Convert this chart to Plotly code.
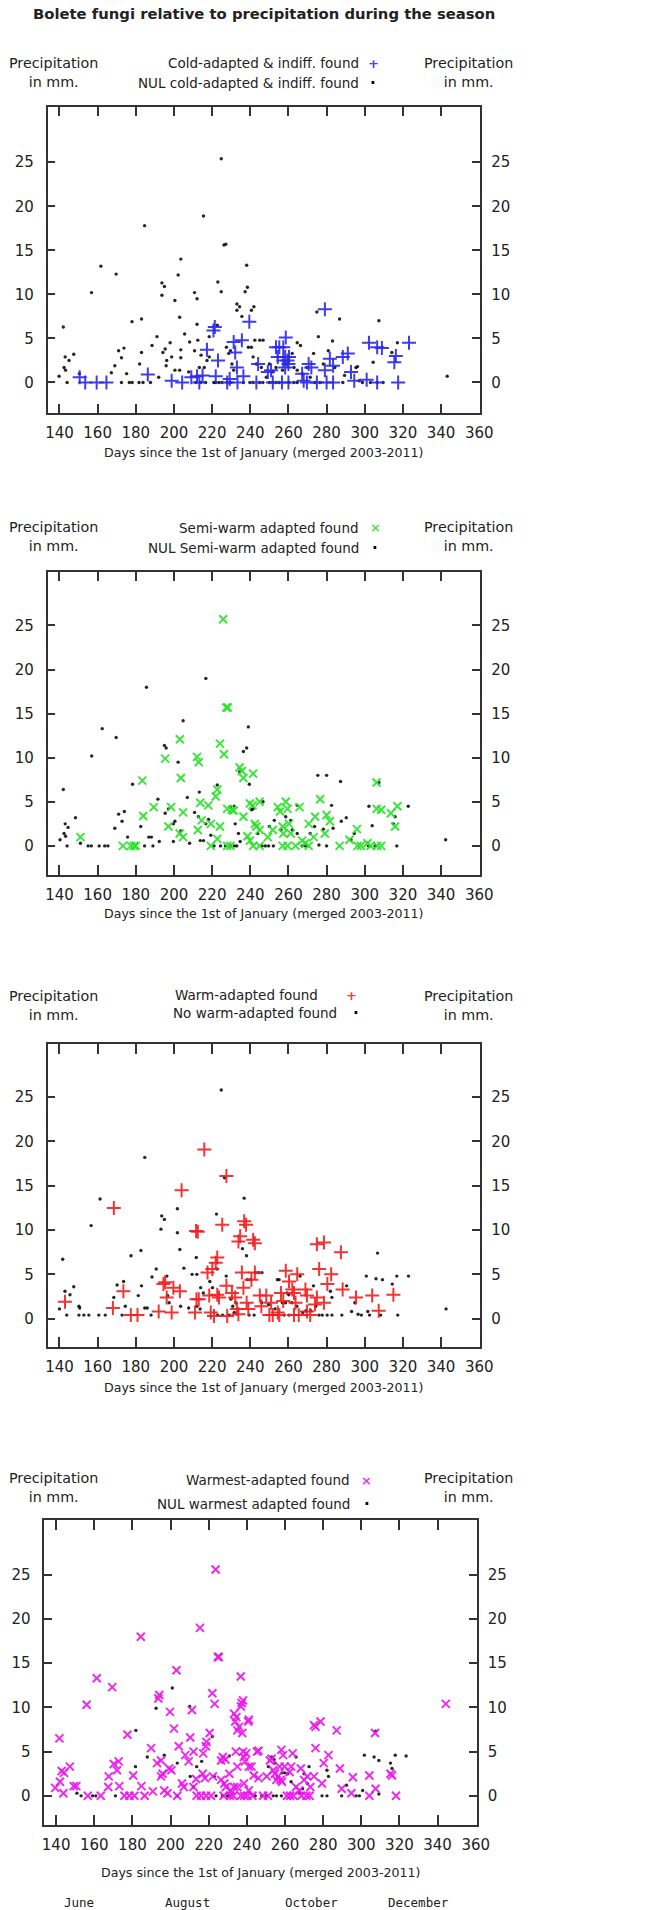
import plotly.graph_objects as go

# ---------------- data ----------------
TITLE = "Bolete fungi relative to precipitation during the season"
X_TICKS = [140, 160, 180, 200, 220, 240, 260, 280, 300, 320, 340, 360]
Y_TICKS = [0, 5, 10, 15, 20, 25]
X_TITLE = "Days since the 1st of January (merged 2003-2011)"
Y_TITLE = "Precipitation<br>in mm."
MONTHS = ["June", "August", "October", "December"]
MONTH_DAYS = [152, 209, 274, 330]

# Panel 1 : cold-adapted & indifferent
cold_found_x = [150.6, 153.5, 159.5, 164.6, 186.3, 198.8, 204.3, 209.1, 212.1, 213.3, 215.0, 217.3,
                220.7, 221.4, 221.9, 223.1, 227.9, 229.2, 231.3, 232.1, 233.0, 233.3, 235.6, 236.4,
                239.5, 243.2, 244.1, 249.2, 250.9, 251.8, 256.6, 260.0, 253.5, 255.2, 257.3, 254.4,
                258.6, 257.3, 258.3, 259.5, 260.3, 258.3, 260.0, 267.2, 268.0, 269.7, 270.6, 272.0,
                274.9, 279.1, 279.1, 280.0, 283.4, 281.7, 283.4, 288.5, 291.1, 292.8, 294.5, 301.0,
                302.2, 306.5, 306.5, 309.0, 315.5, 316.3, 317.5, 323.2]
cold_found_y = [0.6, 0.0, 0.0, 0.0, 0.9, 0.2, 0.0, 0.6, 0.7, 0.0, 0.8, 3.7,
                5.9, 6.3, 0.7, 2.5, 0.0, 0.4, 4.6, 3.4, 1.7, 0.0, 4.8, 0.7,
                6.9, 0.0, 2.1, 1.2, 1.4, 0.0, 0.0, 0.0, 4.0, 4.0, 4.0, 2.9,
                5.1, 2.5, 2.9, 2.5, 2.9, 1.7, 2.1, 1.0, 0.2, 0.0, 2.1, 1.7,
                0.0, 8.3, 1.4, 0.0, 0.0, 2.7, 1.9, 2.9, 3.3, 1.2, 0.2, 0.3,
                4.5, 0.0, 4.0, 3.9, 2.3, 3.0, 0.0, 4.5]
cold_nul_x = [139.8, 142.0, 142.4, 143.2, 143.0, 145.0, 144.0, 147.5, 150.4, 156.8, 161.7, 167.2,
              169.0, 169.7, 171.0, 172.5, 173.8, 172.5, 175.2, 176.6, 178.1, 181.7, 183.8, 178.0,
              183.0, 182.0, 183.0, 184.6, 187.7, 188.5, 191.1, 192.0, 193.7, 195.0, 193.7, 194.2,
              195.4, 195.9, 196.2, 198.0, 198.8, 200.5, 200.5, 202.2, 203.0, 203.6, 203.6, 203.6,
              203.0, 205.6, 207.7, 208.2, 210.8, 210.8, 212.1, 212.1, 212.5, 213.3, 214.2, 215.5,
              215.9, 217.3, 218.5, 218.5, 223.0, 222.7, 224.8, 224.8, 226.2, 227.2, 227.5, 228.7,
              229.6, 230.4, 231.3, 233.0, 234.4, 233.0, 235.6, 237.3, 238.5, 238.1, 239.0, 240.6,
              240.6, 241.9, 241.5, 242.4, 245.0, 246.7, 243.2, 245.8, 248.4, 250.0, 251.8, 253.5,
              254.4, 256.9, 258.6, 260.3, 262.0, 262.9, 264.6, 264.6, 266.3, 267.2, 269.7, 271.4,
              273.2, 274.9, 275.7, 278.3, 280.9, 283.1, 284.3, 286.8, 288.5, 289.4, 295.4, 296.2,
              297.1, 298.8, 303.0, 304.4, 306.5, 307.4, 309.6, 314.2, 317.1, 343.2,
              211.5, 214.0, 216.6, 220.9, 221.8, 223.5, 225.2, 227.8, 229.6, 236.4, 239.8, 241.5,
              244.9, 246.6, 250.0, 251.7, 253.4, 255.1, 260.3, 262.9, 264.6, 273.9, 276.5]
cold_nul_y = [0.7, 6.3, 1.7, 1.4, 2.9, 2.5, 0.0, 3.2, 1.0, 10.2, 13.2, 1.1,
              1.9, 12.3, 3.6, 2.8, 3.9, 0.0, 1.0, 0.0, 0.0, 0.0, 0.0, 6.9,
              7.2, 2.1, 3.4, 17.8, 0.0, 4.2, 5.2, 0.6, 11.3, 10.9, 9.9, 3.4,
              3.8, 1.9, 2.5, 4.5, 2.9, 9.3, 1.4, 12.2, 7.4, 14.0, 3.7, 2.8,
              1.4, 5.5, 1.2, 4.6, 3.6, 10.2, 9.5, 6.6, 4.8, 1.7, 3.1, 18.9,
              1.7, 2.5, 2.9, 5.2, 11.4, 6.5, 25.4, 10.3, 15.6, 15.7, 4.0, 3.3,
              3.6, 2.1, 1.4, 8.9, 8.6, 8.2, 7.5, 10.3, 10.8, 13.3, 4.0, 4.0,
              8.2, 8.6, 2.9, 4.8, 4.8, 4.8, 2.1, 1.7, 0.6, 2.1, 1.2, 1.7,
              2.9, 1.4, 2.1, 2.9, 3.3, 1.7, 1.4, 4.5, 4.2, 1.0, 1.7, 0.6,
              3.3, 8.0, 5.2, 2.1, 3.6, 4.7, 1.7, 7.2, 0.0, 0.8, 1.7, 1.8,
              0.2, 0.0, 0.0, 2.3, 0.0, 7.0, 0.0, 3.4, 4.5, 0.7,
              0.0, 0.0, 0.0, 0.0, 0.0, 0.0, 0.0, 0.0, 0.0, 0.0, 0.0, 0.0,
              0.0, 0.0, 0.0, 0.0, 0.0, 0.0, 0.0, 0.0, 0.0, 0.0, 0.0]

# Panel 2 : semi-warm adapted
semi_found_x = [151.0, 173.2, 177.4, 179.1, 180.0, 183.4, 183.9, 189.4, 195.4, 197.1, 198.5, 203.1,
                203.6, 203.0, 204.8, 204.8, 212.1, 213.0, 212.5, 213.8, 214.5, 218.0, 219.3, 219.3,
                221.9, 222.7, 222.7, 224.1, 224.1, 225.8, 226.2, 227.5, 228.2, 227.9, 230.4, 231.3,
                227.9, 229.6, 234.4, 235.6, 236.4, 236.4, 238.5, 239.8, 239.8, 241.2, 241.5, 242.4,
                243.2, 244.9, 241.5, 244.9, 244.9, 249.2, 251.8, 254.4, 255.6, 257.0, 257.3, 258.6,
                259.5, 257.0, 259.5, 260.3, 261.2, 263.7, 265.8, 267.2, 268.9, 270.6, 270.6, 273.2,
                274.0, 276.6, 279.1, 280.0, 281.7, 286.8, 292.0, 295.9, 296.2, 297.9, 301.4, 303.1,
                306.2, 306.2, 308.6, 306.5, 308.6, 313.7, 315.9, 317.1]
semi_found_y = [1.0, 0.0, 0.0, 0.0, 0.0, 7.4, 3.4, 4.4, 9.9, 2.2, 4.4, 12.1,
                7.7, 1.4, 1.0, 3.8, 10.1, 9.5, 1.8, 4.9, 2.9, 4.6, 2.5, 0.0,
                5.6, 6.4, 0.8, 11.6, 2.2, 25.7, 10.4, 15.7, 15.7, 4.2, 4.1, 4.0,
                0.0, 0.0, 8.9, 8.5, 7.7, 3.3, 1.1, 0.6, 4.8, 4.6, 8.2, 2.5,
                2.2, 1.8, 0.0, 0.0, 5.0, 1.0, 1.8, 4.4, 3.9, 2.2, 1.4, 5.0,
                4.2, 0.0, 0.0, 2.5, 1.4, 0.0, 4.4, 0.6, 0.3, 0.0, 2.5, 1.0,
                3.3, 5.3, 1.4, 3.5, 2.8, 0.0, 0.7, 1.9, 0.0, 0.0, 0.3, 0.0,
                7.2, 4.2, 4.1, 0.0, 0.0, 3.7, 2.2, 4.5]
semi_nul_x = [140.3, 142.0, 142.4, 143.2, 143.0, 144.5, 144.0, 148.4, 151.0, 155.0, 156.7, 156.9,
              160.8, 163.7, 165.4, 162.4, 169.0, 169.7, 171.0, 174.0, 172.8, 175.7, 178.3, 182.6,
              185.6, 186.8, 188.2, 184.6, 189.0, 191.6, 192.3, 195.0, 195.9, 195.4, 197.1, 199.7,
              200.5, 199.7, 202.2, 204.8, 203.6, 207.0, 208.2, 210.8, 212.8, 213.3, 213.8, 215.5,
              216.7, 216.7, 218.1, 219.3, 222.7, 221.0, 224.4, 227.0, 229.6, 231.6, 232.9, 229.6,
              231.6, 232.1, 233.8, 234.7, 234.4, 236.4, 238.1, 239.0, 239.5, 240.7, 241.5, 243.9,
              246.7, 246.2, 247.9, 249.6, 252.1, 250.0, 252.6, 256.1, 258.6, 261.2, 262.0, 264.6,
              264.6, 267.2, 268.9, 271.4, 273.7, 275.4, 276.0, 278.3, 280.0, 280.0, 282.6, 283.4,
              287.3, 287.7, 290.3, 292.8, 294.5, 302.0, 305.4, 302.2, 303.9, 307.4, 315.0, 315.9,
              316.8, 322.8, 342.4]
semi_nul_y = [0.7, 6.4, 1.4, 1.1, 2.5, 2.1, 0.0, 3.2, 0.3, 0.0, 0.0, 10.2,
              0.0, 0.0, 0.0, 13.3, 2.0, 12.3, 3.6, 3.9, 2.8, 1.0, 7.0, 2.2,
              18.0, 1.0, 1.0, 0.0, 0.0, 5.3, 0.5, 11.4, 11.1, 3.7, 4.2, 2.5,
              2.8, 0.5, 9.5, 14.2, 1.7, 5.5, 0.3, 3.8, 3.3, 6.1, 0.6, 0.6,
              19.0, 2.5, 3.0, 1.2, 6.9, 0.0, 0.0, 0.0, 0.0, 0.0, 0.0, 4.4,
              4.5, 2.5, 1.4, 0.5, 8.4, 10.7, 11.1, 13.5, 7.0, 4.1, 4.2, 1.4,
              5.0, 0.0, 0.0, 0.0, 0.0, 2.2, 2.9, 1.8, 3.3, 2.9, 1.8, 1.4,
              4.6, 0.0, 0.0, 1.4, 2.2, 8.0, 0.1, 1.9, 0.0, 8.0, 4.6, 2.0,
              7.3, 2.8, 3.2, 0.7, 1.4, 0.0, 0.0, 4.5, 2.3, 7.2, 2.5, 3.3,
              0.0, 4.5, 0.7]

# Panel 3 : warm adapted
warm_found_x = [142.9, 168.5, 168.0, 173.5, 177.4, 180.9, 192.0, 194.5, 195.4, 196.2, 198.8, 199.7,
                203.1, 204.0, 211.6, 212.5, 211.8, 213.0, 211.0, 215.9, 217.6, 218.5, 219.3, 221.0,
                220.1, 221.9, 222.7, 222.7, 223.6, 225.3, 227.5, 227.5, 227.9, 230.4, 232.1, 233.0,
                233.8, 233.8, 234.7, 235.6, 236.4, 236.8, 237.8, 238.1, 239.0, 240.6, 241.5, 242.4,
                242.4, 245.0, 245.8, 248.4, 250.0, 251.8, 250.9, 254.4, 255.2, 256.1, 257.3, 258.6,
                260.3, 262.0, 262.9, 263.7, 264.6, 262.9, 265.4, 268.9, 269.7, 271.4, 269.7, 273.9,
                274.9, 274.9, 276.1, 278.6, 278.6, 280.4, 282.4, 287.5, 288.4, 295.4, 303.9, 307.3,
                315.0]
warm_found_y = [1.9, 12.5, 1.2, 3.1, 0.4, 0.4, 0.8, 3.9, 4.1, 2.4, 0.7, 3.5,
                3.1, 14.5, 9.9, 9.8, 2.2, 2.2, 0.7, 19.1, 5.2, 2.6, 0.7, 0.3,
                5.6, 6.3, 6.9, 2.7, 2.4, 10.6, 16.1, 3.7, 0.3, 2.9, 2.4, 1.1,
                0.5, 8.7, 9.3, 5.2, 3.5, 11.0, 10.6, 1.8, 1.1, 4.4, 8.9, 8.5,
                5.2, 2.6, 1.4, 2.6, 0.4, 0.4, 1.8, 0.7, 0.4, 2.9, 2.0, 5.4,
                4.2, 3.3, 2.9, 1.8, 5.0, 0.4, 0.4, 3.3, 2.6, 0.4, 0.8, 1.6,
                2.4, 8.4, 5.6, 8.6, 1.8, 3.9, 5.0, 7.5, 3.3, 2.4, 2.6, 0.9,
                2.7]
warm_nul_x = [140.0, 141.7, 142.9, 143.8, 145.5, 147.5, 150.2, 150.6, 150.2, 152.8, 155.4, 156.6,
              160.6, 164.0, 161.3, 168.5, 170.2, 173.6, 172.8, 174.5, 177.5, 181.3, 182.7, 183.0,
              184.7, 184.7, 186.0, 188.0, 188.5, 190.7, 193.6, 195.0, 193.2, 196.3, 196.7, 197.5,
              201.8, 201.8, 203.1, 203.5, 205.2, 207.7, 209.5, 212.0, 211.7, 212.0, 213.7, 214.0,
              215.4, 218.8, 220.2, 222.3, 222.6, 222.9, 225.5, 228.9, 224.8, 226.5, 227.4, 229.9,
              230.8, 231.6, 232.5, 235.9, 236.8, 238.0, 238.5, 240.2, 239.4, 242.0, 242.7, 244.4,
              246.1, 246.1, 249.6, 253.0, 254.2, 255.1, 256.8, 258.5, 259.3, 260.2, 257.7, 260.3,
              261.8, 264.4, 266.1, 267.5, 269.2, 271.7, 273.1, 274.3, 276.0, 277.7, 280.3, 282.8,
              282.0, 282.8, 288.0, 290.5, 293.1, 294.8, 296.5, 298.2, 300.8, 301.6, 302.5, 306.7,
              305.9, 309.3, 308.3, 314.4, 316.8, 317.3, 322.9, 342.6]
warm_nul_y = [1.1, 6.7, 3.1, 0.4, 2.7, 3.6, 1.4, 1.2, 0.4, 0.4, 0.4, 10.5,
              0.4, 0.4, 13.5, 2.4, 3.8, 4.2, 0.4, 1.4, 7.1, 2.6, 7.7, 3.7,
              18.2, 1.2, 1.2, 0.4, 4.7, 5.6, 11.6, 11.2, 10.1, 4.8, 2.6, 1.8,
              9.7, 12.4, 7.8, 1.4, 5.7, 1.2, 5.0, 5.0, 6.9, 1.4, 1.1, 3.5,
              2.9, 4.2, 3.5, 11.8, 5.6, 0.4, 0.4, 0.4, 25.8, 15.9, 4.8, 2.2,
              1.4, 0.7, 1.8, 7.9, 13.6, 7.1, 4.4, 4.4, 0.4, 0.4, 5.2, 5.2,
              5.2, 1.8, 1.6, 1.1, 4.4, 4.4, 1.8, 1.8, 2.9, 2.7, 0.4, 0.4,
              1.8, 1.4, 4.8, 0.7, 0.9, 0.9, 3.7, 1.4, 0.4, 0.4, 0.4, 0.4,
              3.1, 2.4, 0.4, 3.7, 0.8, 1.8, 0.5, 0.4, 4.8, 0.8, 0.4, 7.4,
              4.5, 4.4, 0.4, 3.9, 4.8, 0.4, 4.8, 1.1]

# Panel 4 : warmest adapted
warmest_found_x = [139.5, 141.7, 142.0, 142.9, 144.1, 143.8, 147.2, 149.2, 150.6, 156.0, 156.6, 161.3,
                   163.4, 167.3, 167.6, 169.4, 170.2, 172.8, 171.9, 173.1, 175.8, 178.4, 181.0, 177.4,
                   180.4, 184.4, 184.7, 186.4, 189.8, 190.7, 192.9, 194.1, 193.6, 195.0, 195.0, 195.8,
                   196.7, 198.4, 199.2, 200.4, 199.7, 201.8, 203.1, 204.3, 203.5, 206.0, 206.9, 207.7,
                   209.5, 210.3, 211.2, 212.0, 212.0, 213.7, 213.4, 215.4, 216.8, 218.0, 217.1, 218.5,
                   218.8, 220.5, 216.0, 218.6, 221.2, 221.9, 223.1, 222.2, 223.6, 224.8, 225.3, 226.5,
                   227.4, 228.7, 226.5, 228.2, 229.0, 227.8, 231.2, 232.9, 230.8, 231.6, 233.3, 235.0,
                   233.3, 234.5, 233.9, 234.2, 235.0, 235.9, 235.0, 236.8, 237.6, 237.3, 238.0, 236.9,
                   238.0, 239.7, 238.5, 239.0, 241.0, 238.5, 241.0, 236.9, 238.6, 240.3, 242.9, 240.7,
                   241.0, 242.4, 243.6, 245.3, 246.1, 246.1, 248.5, 251.1, 250.4, 252.1, 253.0, 253.8,
                   254.7, 255.5, 256.4, 257.7, 258.4, 258.1, 259.0, 257.2, 259.8, 261.0, 262.7, 264.4,
                   262.4, 263.2, 264.0, 265.8, 267.5, 268.3, 270.0, 268.6, 271.2, 272.9, 271.7, 273.3,
                   275.2, 276.0, 276.0, 278.6, 275.2, 279.4, 280.3, 282.8, 287.1, 288.8, 289.7, 294.8,
                   295.6, 304.2, 304.2, 307.2, 307.5, 315.3, 316.1, 318.2, 344.3]
warmest_found_y = [0.9, 6.5, 1.6, 2.8, 2.6, 0.3, 3.3, 1.1, 1.1, 10.3, 0.0, 13.3,
                   0.0, 1.0, 2.2, 12.3, 3.6, 3.9, 2.9, 1.1, 0.0, 0.0, 0.0, 6.9,
                   2.3, 18.0, 1.1, 0.0, 5.4, 0.5, 3.7, 11.4, 11.0, 4.0, 2.2, 2.5,
                   0.6, 0.3, 3.1, 2.9, 9.5, 7.6, 14.2, 5.6, 0.0, 1.4, 1.0, 4.6,
                   3.9, 6.6, 9.7, 5.0, 1.0, 0.0, 1.9, 19.0, 2.5, 2.0, 4.8, 5.6,
                   6.1, 7.1, 0.0, 0.0, 0.0, 11.6, 10.4, 2.2, 25.6, 15.7, 15.7, 4.0,
                   4.4, 4.1, 1.8, 1.4, 1.0, 0.0, 0.0, 0.0, 2.5, 0.6, 1.0, 1.0,
                   9.3, 8.9, 8.4, 5.0, 7.4, 7.8, 3.3, 13.5, 7.1, 10.5, 10.8, 10.1,
                   5.0, 4.8, 4.4, 3.9, 3.3, 1.4, 0.6, 0.0, 0.0, 0.0, 0.0, 8.4,
                   8.6, 3.3, 2.3, 5.0, 5.1, 2.0, 0.0, 0.0, 2.2, 4.0, 4.2, 2.9,
                   2.5, 1.8, 2.2, 1.8, 1.6, 5.2, 4.6, 3.3, 3.3, 0.0, 0.0, 0.0,
                   2.7, 3.3, 4.8, 1.0, 0.6, 3.1, 1.8, 0.0, 0.0, 0.0, 2.2, 1.0,
                   8.0, 7.8, 5.4, 8.4, 2.2, 1.4, 3.7, 4.6, 7.4, 3.1, 0.8, 0.3,
                   2.1, 0.0, 2.3, 7.1, 0.8, 2.5, 2.3, 0.0, 10.4]
warmest_nul_x = [150.9, 153.1, 159.1, 160.8, 171.1, 181.6, 181.8, 187.8, 192.4, 196.7, 200.9, 203.5,
                 203.5, 210.0, 210.3, 212.0, 213.7, 216.3, 221.9, 222.9, 223.8, 227.2, 229.8, 230.8,
                 230.8, 244.4, 247.8, 250.4, 253.8, 255.5, 258.1, 253.0, 254.3, 251.3, 254.7, 258.4,
                 259.8, 261.5, 263.2, 265.8, 267.5, 269.2, 270.0, 271.7, 272.6, 279.4, 282.0, 282.0,
                 282.8, 289.7, 292.2, 297.3, 299.0, 300.7, 301.6, 306.7, 309.2, 307.5, 309.2, 315.3,
                 316.1, 317.8, 323.5]
warmest_nul_y = [0.3, 0.0, 0.0, 0.0, 0.0, 3.3, 7.4, 4.4, 9.9, 4.6, 12.2, 3.7,
                 0.0, 10.1, 2.2, 1.0, 3.3, 3.9, 6.7, 2.2, 0.0, 0.0, 0.0, 4.5,
                 0.0, 0.0, 0.0, 0.0, 0.0, 0.0, 0.0, 4.4, 4.1, 3.3, 3.7, 2.6,
                 2.6, 2.5, 1.6, 4.4, 0.3, 0.8, 2.5, 1.4, 3.3, 0.0, 0.0, 2.9,
                 2.2, 0.0, 1.2, 0.0, 0.0, 0.6, 4.6, 4.4, 4.0, 7.3, 0.2, 3.7,
                 3.1, 4.6, 4.5]

FOUND_LABELS = ["Cold-adapted & indiff. found", "Semi-warm adapted found",
                "Warm-adapted found", "Warmest-adapted found"]
NUL_LABELS = ["NUL cold-adapted & indiff. found", "NUL Semi-warm adapted found",
              "No warm-adapted found", "NUL warmest adapted found"]

# ---------------- layout / styling ----------------
W, H = 661, 1910
FONT = "DejaVu Sans"
TXT = "#222222"
AXC = "#333333"

panels = [
    dict(fx=cold_found_x, fy=cold_found_y, nx=cold_nul_x, ny=cold_nul_y,
         sym="cross-thin-open", col="rgba(40,40,235,0.9)", leg_sym="+", size=10,
         box=(46.7, 489.3, 106.7, 413.3), yr=(-3.5, 31.3),
         leg=(63, 83), leg_end=(367, 367), mk=(380, 380), prec=(63, 83), xt=453),
    dict(fx=semi_found_x, fy=semi_found_y, nx=semi_nul_x, ny=semi_nul_y,
         sym="x-thin-open", col="rgba(40,225,40,0.9)", leg_sym="×", size=8,
         box=(46.7, 489.3, 571.7, 875.0), yr=(-3.3, 31.1),
         leg=(528, 548), leg_end=(367, 367), mk=(382, 382), prec=(527, 547), xt=913),
    dict(fx=warm_found_x, fy=warm_found_y, nx=warm_nul_x, ny=warm_nul_y,
         sym="cross-thin-open", col="rgba(240,30,30,0.9)", leg_sym="+", size=10,
         box=(46.7, 489.3, 1044.0, 1347.0), yr=(-3.2, 31.0),
         leg=(995, 1013), leg_end=(325, 345), mk=(358, 362), prec=(997, 1014), xt=1387),
    dict(fx=warmest_found_x, fy=warmest_found_y, nx=warmest_nul_x, ny=warmest_nul_y,
         sym="x-thin-open", col="rgba(235,20,235,0.9)", leg_sym="×", size=8,
         box=(43.3, 485.7, 1520.0, 1825.0), yr=(-3.3, 31.2),
         leg=(1480, 1504), leg_end=(358, 358), mk=(373, 373), prec=(1477, 1497), xt=1872),
]
XR = (133.8, 360.5)

def px(x):
    return x / W

def py(y):
    return 1 - y / H

fig = go.Figure()
annotations = []
layout = dict(width=W, height=H, margin=dict(l=0, r=0, t=0, b=0),
              paper_bgcolor="white", plot_bgcolor="white", showlegend=False,
              font=dict(family=FONT, size=13, color=TXT))

for i, p in enumerate(panels, start=1):
    xa, ya, yb = f"x{i}", f"y{i}", f"y{i+4}"
    x0, x1, y0, y1 = p["box"]
    fig.add_trace(go.Scatter(x=p["nx"], y=p["ny"], mode="markers", xaxis=xa, yaxis=ya,
                             marker=dict(symbol="circle", size=3.4, color="rgba(0,0,0,0.85)"),
                             hoverinfo="skip"))
    fig.add_trace(go.Scatter(x=p["fx"], y=p["fy"], mode="markers", xaxis=xa, yaxis=ya,
                             marker=dict(symbol=p["sym"], size=p["size"], color=p["col"],
                                         line=dict(color=p["col"], width=2)),
                             hoverinfo="skip"))
    # invisible trace so the right-hand axis is drawn
    fig.add_trace(go.Scatter(x=[XR[0]], y=[0], mode="markers", xaxis=xa, yaxis=yb,
                             marker=dict(opacity=0), hoverinfo="skip"))
    layout[f"xaxis{i}"] = dict(domain=[px(x0), px(x1)], range=list(XR), anchor=ya,
                               tickvals=X_TICKS, ticks="inside", ticklen=10, tickwidth=1.5,
                               tickcolor=AXC, mirror="ticks", showline=True, linecolor=AXC,
                               linewidth=1.5, showgrid=False, zeroline=False,
                               ticklabelstandoff=5,
                               tickfont=dict(family=FONT, size=15, color=TXT))
    layout[f"yaxis{i}"] = dict(domain=[py(y1), py(y0)], range=list(p["yr"]), anchor=xa,
                               tickvals=Y_TICKS, ticks="inside", ticklen=8, tickwidth=1.5,
                               tickcolor=AXC, mirror="ticks", showline=True, linecolor=AXC,
                               linewidth=1.5, showgrid=False, zeroline=False,
                               ticklabelstandoff=9,
                               tickfont=dict(family=FONT, size=15, color=TXT))
    layout[f"yaxis{i+4}"] = dict(overlaying=ya, side="right", anchor=xa, range=list(p["yr"]),
                                 tickvals=Y_TICKS, ticks="", showline=False, showgrid=False,
                                 zeroline=False, ticklabelstandoff=10,
                                 tickfont=dict(family=FONT, size=15, color=TXT))
    # legend texts (symbol on the right, gnuplot style)
    for j, (lab, sym, scol) in enumerate([(FOUND_LABELS[i-1], p["leg_sym"], p["col"]),
                                          (NUL_LABELS[i-1], "·", "black")]):
        annotations.append(dict(x=px(p["leg_end"][j]), y=py(p["leg"][j]), xref="paper",
                                yref="paper", text=lab, showarrow=False, xanchor="right",
                                yanchor="middle", font=dict(family=FONT, size=13.5, color=TXT)))
        annotations.append(dict(x=px(p["mk"][j]), y=py(p["leg"][j]), xref="paper", yref="paper",
                                text=f"<b>{sym}</b>", showarrow=False, xanchor="center",
                                yanchor="middle",
                                font=dict(family=FONT, size=13 if j == 0 else 15, color=scol)))
    # y titles on both sides
    for cx in (53, 477):
        annotations.append(dict(x=px(cx), y=py((p["prec"][0] + p["prec"][1]) / 2), xref="paper",
                                yref="paper", text=Y_TITLE, showarrow=False, xanchor="center",
                                yanchor="middle", align="center",
                                font=dict(family=FONT, size=14.3, color=TXT)))
    # x title
    annotations.append(dict(x=px((x0 + x1) / 2), y=py(p["xt"]), xref="paper", yref="paper",
                            text=X_TITLE, showarrow=False, xanchor="center", yanchor="middle",
                            font=dict(family=FONT, size=12.6, color=TXT)))

# main title
annotations.append(dict(x=px(268), y=py(14), xref="paper", yref="paper", text=f"<b>{TITLE}</b>",
                        showarrow=False, xanchor="center", yanchor="middle",
                        font=dict(family=FONT, size=14.8, color=TXT)))

# month labels below the last panel, positioned on its day scale
for m, d in zip(MONTHS, MONTH_DAYS):
    annotations.append(dict(x=d, y=py(1902), xref="x4", yref="paper", text=m, showarrow=False,
                            xanchor="center", yanchor="middle",
                            font=dict(family="DejaVu Sans Mono", size=12.5, color=TXT)))

layout["annotations"] = annotations
fig.update_layout(**layout)
fig.write_html("out.html", config={"displayModeBar": False},
               post_script="document.body.style.margin='0';"
                           "document.body.style.overflow='hidden';")
